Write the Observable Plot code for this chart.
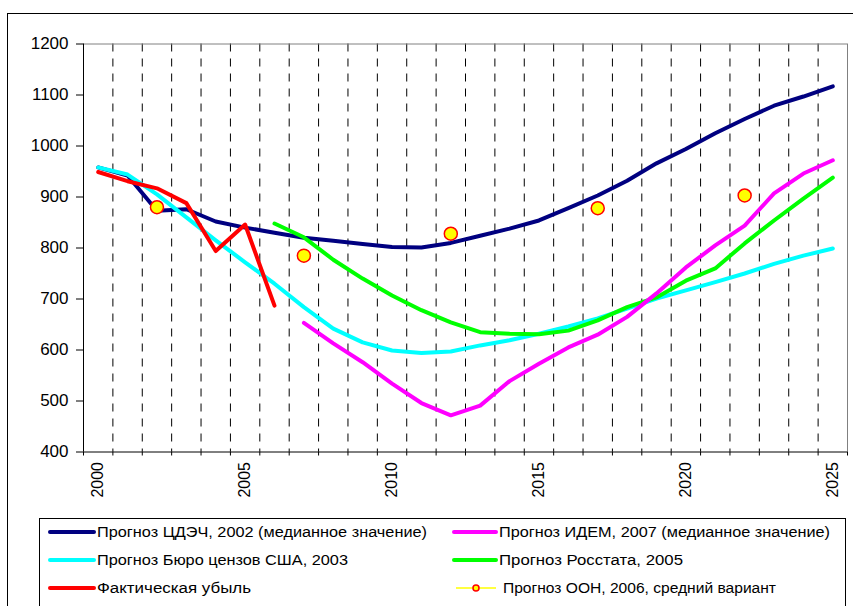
<!DOCTYPE html>
<html><head><meta charset="utf-8">
<script src="https://cdn.jsdelivr.net/npm/d3@7"></script>
<script src="https://cdn.jsdelivr.net/npm/@observablehq/plot@0.6"></script>
<style>
html,body{margin:0;padding:0;background:#fff;}
#wrap{position:relative;width:853px;height:606px;overflow:hidden;background:#fff;font-family:"Liberation Sans",Arial,sans-serif;}
#border{position:absolute;left:7px;top:13px;width:1000px;height:1000px;border:1px solid #000;box-sizing:border-box;}
#chart{position:absolute;left:0;top:0;}
#legend{position:absolute;left:0;top:515px;}
</style></head><body>
<div id="wrap"><div id="border"></div><div id="chart"></div><div id="legend"></div></div>
<script>
// Categories
const years = [2000,2001,2002,2003,2004,2005,2006,2007,2008,2009,2010,2011,2012,2013,2014,2015,2016,2017,2018,2019,2020,2021,2022,2023,2024,2025];
const labelYears = [2000,2005,2010,2015,2020,2025];
const yTicks = [400,500,600,700,800,900,1000,1100,1200];

// Series
const cdechYears = years;
const cdechValues = [958,942,873,876,852,840,830,820,814,808,802,801,810,824,838,854,878,903,932,966,994,1025,1053,1079,1097,1117];
const censusYears = years;
const censusValues = [958,944,905,860,815,772,730,684,642,615,599,594,597,609,619,632,646,662,681,701,717,733,750,769,785,799];
const actualYears = [2000,2001,2002,2003,2004,2005,2006];
const actualValues = [949,931,917,888,794,846,687];
const rosstatYears = [2006,2007,2008,2009,2010,2011,2012,2013,2014,2015,2016,2017,2018,2019,2020,2021,2022,2023,2024,2025];
const rosstatValues = [848,821,777,740,707,678,654,635,632,631,638,658,684,703,736,760,809,854,897,938];
const idemYears = [2007,2008,2009,2010,2011,2012,2013,2014,2015,2016,2017,2018,2019,2020,2021,2022,2023,2024,2025];
const idemValues = [653,613,576,534,496,472,491,539,573,605,630,665,711,762,805,844,907,946,972];
const unYears = [2002,2007,2012,2017,2022];
const unValues = [880,785,828,878,903];

const legendLabels = [
  "Прогноз ЦДЭЧ, 2002 (медианное значение)",
  "Прогноз Бюро цензов США, 2003",
  "Фактическая убыль",
  "Прогноз ИДЕМ, 2007 (медианное значение)",
  "Прогноз Росстата, 2005",
  "Прогноз ООН, 2006, средний вариант"
];

const rows = (xs, vs) => xs.map((x, i) => ({x, y: vs[i]}));
const boundaries = years.slice(1).map(y => y - 0.5);
const H = 515;
const lineOpts = {x: "x", y: "y", strokeWidth: 4, strokeLinejoin: "round", strokeLinecap: "round"};

const chart = Plot.plot({
  width: 853, height: H,
  marginLeft: 83, marginRight: 6, marginTop: 43.5, marginBottom: H - 451.5,
  style: {fontFamily: "'Liberation Sans', Arial, sans-serif", background: "transparent", overflow: "visible", fontSize: "16px"},
  x: {domain: [years[0] - 0.5, years[years.length - 1] + 0.5]},
  y: {domain: [yTicks[0], yTicks[yTicks.length - 1]]},
  marks: [
    Plot.ruleX(boundaries, {stroke: "#000", strokeDasharray: "8,7", strokeWidth: 1}),
    Plot.ruleY([yTicks[yTicks.length - 1]], {stroke: "#808080"}),
    Plot.ruleX([years[years.length - 1] + 0.5], {stroke: "#808080"}),
    Plot.axisY({ticks: yTicks, tickSize: 7, tickPadding: 8, fontSize: 17, label: null, tickFormat: d => String(d)}),
    Plot.axisX({ticks: [years[0] - 0.5, ...boundaries, years[years.length - 1] + 0.5], tickSize: 4, tickFormat: () => "", label: null}),
    Plot.axisX({ticks: labelYears, tickSize: 0, tickRotate: -90, tickPadding: 10, fontSize: 16, label: null, tickFormat: d => String(d)}),
    Plot.ruleX([years[0] - 0.5], {stroke: "#000"}),
    Plot.ruleY([yTicks[0]], {stroke: "#000"}),
    Plot.line(rows(cdechYears, cdechValues), {...lineOpts, stroke: "#000080"}),
    Plot.line(rows(censusYears, censusValues), {...lineOpts, stroke: "#00FFFF"}),
    Plot.line(rows(rosstatYears, rosstatValues), {...lineOpts, stroke: "#00FF00"}),
    Plot.line(rows(idemYears, idemValues), {...lineOpts, stroke: "#FF00FF"}),
    Plot.line(rows(actualYears, actualValues), {...lineOpts, stroke: "#FF0000"}),
    Plot.dot(rows(unYears, unValues), {x: "x", y: "y", r: 6.5, fill: "#FFFF00", stroke: "#FF0000", strokeWidth: 1.5})
  ]
});
document.getElementById("chart").appendChild(chart);

// Legend
const legendItems = [
  {label: legendLabels[0], color: "#000080", x1: 50, x2: 94, tx: 97, row: 0, w: 330},
  {label: legendLabels[1], color: "#00FFFF", x1: 50, x2: 94, tx: 97, row: 1, w: 251},
  {label: legendLabels[2], color: "#FF0000", x1: 50, x2: 94, tx: 97, row: 2, w: 154},
  {label: legendLabels[3], color: "#FF00FF", x1: 454, x2: 496, tx: 499, row: 0, w: 331},
  {label: legendLabels[4], color: "#00FF00", x1: 454, x2: 496, tx: 499, row: 1, w: 184},
  {label: legendLabels[5], color: "#FFFF00", x1: 456, x2: 496, tx: 503, row: 2, w: 273, marker: true}
];
const leg = d3.select("#legend").append("svg").attr("width", 853).attr("height", 91)
  .style("font-family", "'Liberation Sans', Arial, sans-serif");
leg.append("rect").attr("x", 39.5).attr("y", 3.5).attr("width", 806).attr("height", 200)
  .attr("fill", "none").attr("stroke", "#000");
const rowY = [17, 45, 73];
legendItems.forEach(d => {
  const y = rowY[d.row];
  leg.append("line").attr("x1", d.x1).attr("x2", d.x2).attr("y1", y).attr("y2", y)
    .attr("stroke", d.color).attr("stroke-width", d.marker ? 1.5 : 4).attr("stroke-linecap", d.marker ? "butt" : "round");
  if (d.marker) {
    leg.append("circle").attr("cx", (d.x1 + d.x2) / 2).attr("cy", y).attr("r", 3)
      .attr("fill", "#FFFF00").attr("stroke", "#FF0000").attr("stroke-width", 1.5);
  }
  leg.append("text").attr("x", d.tx).attr("y", y + 5).attr("font-size", 14)
    .attr("textLength", d.w).attr("lengthAdjust", "spacingAndGlyphs").text(d.label);
});
</script>
</body></html>
